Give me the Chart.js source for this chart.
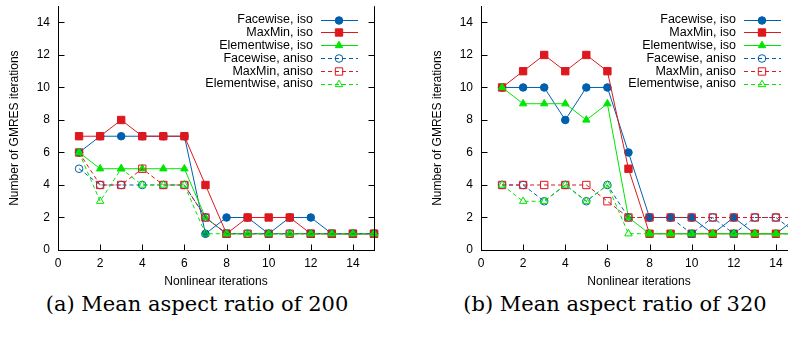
<!DOCTYPE html>
<html>
<head>
<meta charset="utf-8">
<script src="https://cdn.jsdelivr.net/npm/chart.js@4.4.1/dist/chart.umd.min.js"></script>
<style>
  html, body { margin: 0; padding: 0; background: #fff; }
  #page { position: relative; width: 788px; height: 338px; overflow: hidden; }
  canvas { position: absolute; top: 0; }
  #chartA { left: 0; }
  #chartB { left: 423px; }
  .caption { position: absolute; top: 292px; font-family: "DejaVu Serif", serif; font-size: 21px; color: #000; white-space: nowrap; transform: translateX(-50%); }
</style>
</head>
<body>
<div id="page">
  <canvas id="chartA" width="394" height="290"></canvas>
  <canvas id="chartB" width="394" height="290"></canvas>
  <div class="caption" style="left:197px">(a) Mean aspect ratio of 200</div>
  <div class="caption" style="left:615px">(b) Mean aspect ratio of 320</div>
</div>
<script>
const iterations = [1, 2, 3, 4, 5, 6, 7, 8, 9, 10, 11, 12, 13, 14, 15]
const xTicks = [0, 2, 4, 6, 8, 10, 12, 14]
const yTicks = [0, 2, 4, 6, 8, 10, 12, 14]
const seriesNames = ["Facewise, iso", "MaxMin, iso", "Elementwise, iso", "Facewise, aniso", "MaxMin, aniso", "Elementwise, aniso"]

// (a) mean aspect ratio 200
const facewiseIsoA = [6, 7, 7, 7, 7, 7, 1, 2, 2, 1, 2, 2, 1, 1, 1]
const maxminIsoA = [7, 7, 8, 7, 7, 7, 4, 1, 2, 2, 2, 1, 1, 1, 1]
const elementIsoA = [6, 5, 5, 5, 5, 5, 2, 1, 1, 1, 1, 1, 1, 1, 1]
const facewiseAnisoA = [5, 4, 4, 4, 4, 4, 2, 1, 1, 1, 1, 1, 1, 1, 1]
const maxminAnisoA = [6, 4, 4, 5, 4, 4, 2, 1, 1, 1, 1, 1, 1, 1, 1]
const elementAnisoA = [6, 3, 5, 4, 4, 4, 1, 1, 1, 1, 1, 1, 1, 1, 1]

// (b) mean aspect ratio 320
const facewiseIsoB = [10, 10, 10, 8, 10, 10, 6, 2, 2, 2, 1, 2, 1, 1, 2]
const maxminIsoB = [10, 11, 12, 11, 12, 11, 5, 1, 1, 1, 1, 1, 1, 1, 1]
const elementIsoB = [10, 9, 9, 9, 8, 9, 2, 1, 1, 1, 1, 1, 1, 1, 1]
const facewiseAnisoB = [4, 4, 3, 4, 3, 4, 2, 2, 2, 1, 2, 1, 2, 2, 1]
const maxminAnisoB = [4, 4, 4, 4, 4, 3, 2, 2, 2, 2, 2, 2, 2, 2, 2]
const elementAnisoB = [4, 3, 3, 4, 3, 4, 1, 1, 1, 1, 1, 1, 1, 1, 1]

const BLUE = "#0060ad"
const RED = "#dd181f"
const GREEN = "#00e600"
const FONT = "'Liberation Sans', Arial, sans-serif"

// one style per series, same order as seriesNames
const styles = [
  { color: BLUE, point: "circle", radius: 3.8, filled: true, dash: [] },
  { color: RED, point: "rect", radius: 5.2, filled: true, dash: [] },
  { color: GREEN, point: "triangle", radius: 4.3, filled: true, dash: [] },
  { color: BLUE, point: "circle", radius: 3.8, filled: false, dash: [4, 3] },
  { color: RED, point: "rect", radius: 5.2, filled: false, dash: [4, 3] },
  { color: GREEN, point: "triangle", radius: 4.3, filled: false, dash: [4, 3] },
]

function makeDatasets(seriesList) {
  return seriesList.map((values, i) => {
    const st = styles[i]
    return {
      label: seriesNames[i],
      data: values.map((v, k) => ({ x: iterations[k], y: v })),
      showLine: true,
      tension: 0,
      borderColor: st.color,
      borderWidth: 1,
      borderDash: st.dash,
      pointStyle: st.point,
      pointRadius: st.radius,
      pointBorderWidth: 1,
      pointBorderColor: st.color,
      pointBackgroundColor: st.filled ? st.color : "rgba(0,0,0,0)",
      clip: false,
      order: seriesNames.length - i,
    }
  })
}

const frame = {
  id: "frame",
  afterDraw(chart) {
    const { ctx, chartArea: a, scales } = chart
    const sx = scales.x
    const sy = scales.y
    ctx.save()
    ctx.strokeStyle = "#000"
    ctx.lineWidth = 1
    ctx.setLineDash([])
    ctx.beginPath()
    const r = Math.round(a.right) + 0.5
    const l = Math.round(a.left) + 0.5
    const b = Math.round(a.bottom) + 0.5
    ctx.moveTo(r, a.top)
    ctx.lineTo(r, a.bottom)
    yTicks.forEach((v) => {
      const py = Math.round(sy.getPixelForValue(v)) + 0.5
      ctx.moveTo(l, py)
      ctx.lineTo(l + 6, py)
      ctx.moveTo(r, py)
      ctx.lineTo(r - 6, py)
    })
    xTicks.forEach((v) => {
      const px = Math.round(sx.getPixelForValue(v)) + 0.5
      ctx.moveTo(px, b)
      ctx.lineTo(px, b - 6)
    })
    ctx.stroke()

    // key, top right inside the plot
    chart.data.datasets.forEach((ds, i) => {
      const ly = a.top + 13.3 + i * 12.9
      ctx.fillStyle = "#000"
      ctx.font = "12.5px " + FONT
      ctx.textAlign = "right"
      ctx.textBaseline = "middle"
      ctx.fillText(ds.label, a.right - 61, ly)
      ctx.strokeStyle = ds.borderColor
      ctx.lineWidth = 1
      ctx.setLineDash(ds.borderDash)
      ctx.beginPath()
      ctx.moveTo(a.right - 53, Math.round(ly) + 0.5)
      ctx.lineTo(a.right - 16, Math.round(ly) + 0.5)
      ctx.stroke()
      ctx.setLineDash([])
      ctx.fillStyle = ds.pointBackgroundColor
      ctx.strokeStyle = ds.pointBorderColor
      Chart.helpers.drawPoint(ctx, { pointStyle: ds.pointStyle, radius: ds.pointRadius, borderWidth: 1, rotation: 0 }, a.right - 35, Math.round(ly) + 0.5)
    })
    ctx.restore()
  },
}

function makeChart(id, seriesList) {
  return new Chart(document.getElementById(id), {
    type: "scatter",
    data: { datasets: makeDatasets(seriesList) },
    plugins: [frame],
    options: {
      responsive: false,
      animation: false,
      events: [],
      layout: { padding: { left: 0, right: 20, top: 0, bottom: 0 } },
      plugins: { legend: { display: false }, tooltip: { enabled: false } },
      scales: {
        x: {
          type: "linear",
          min: 0,
          max: 15,
          grid: { display: false, drawTicks: false },
          border: { display: true, color: "#000", width: 1 },
          ticks: { padding: 6, color: "#000", font: { family: FONT, size: 12 }, maxRotation: 0, autoSkip: false },
          title: { display: true, text: "Nonlinear iterations", color: "#000", font: { family: FONT, size: 12 }, padding: { top: 0, bottom: 1 } },
          afterBuildTicks: (s) => { s.ticks = xTicks.map((v) => ({ value: v })) },
          afterFit: (s) => { s.height = 40; s.paddingLeft = 0; s.paddingRight = 0 },
        },
        y: {
          type: "linear",
          min: 0,
          max: 15,
          grid: { display: false, drawTicks: false },
          border: { display: true, color: "#000", width: 1 },
          ticks: { padding: 8, color: "#000", font: { family: FONT, size: 12 }, autoSkip: false },
          title: { display: true, text: "Number of GMRES iterations", color: "#000", font: { family: FONT, size: 12 }, padding: { top: 7, bottom: 0 } },
          afterBuildTicks: (s) => { s.ticks = yTicks.map((v) => ({ value: v })) },
          afterFit: (s) => { s.width = 58; s.paddingTop = 0; s.paddingBottom = 0 },
        },
      },
    },
  })
}

makeChart("chartA", [facewiseIsoA, maxminIsoA, elementIsoA, facewiseAnisoA, maxminAnisoA, elementAnisoA])
makeChart("chartB", [facewiseIsoB, maxminIsoB, elementIsoB, facewiseAnisoB, maxminAnisoB, elementAnisoB])
</script>
</body>
</html>
